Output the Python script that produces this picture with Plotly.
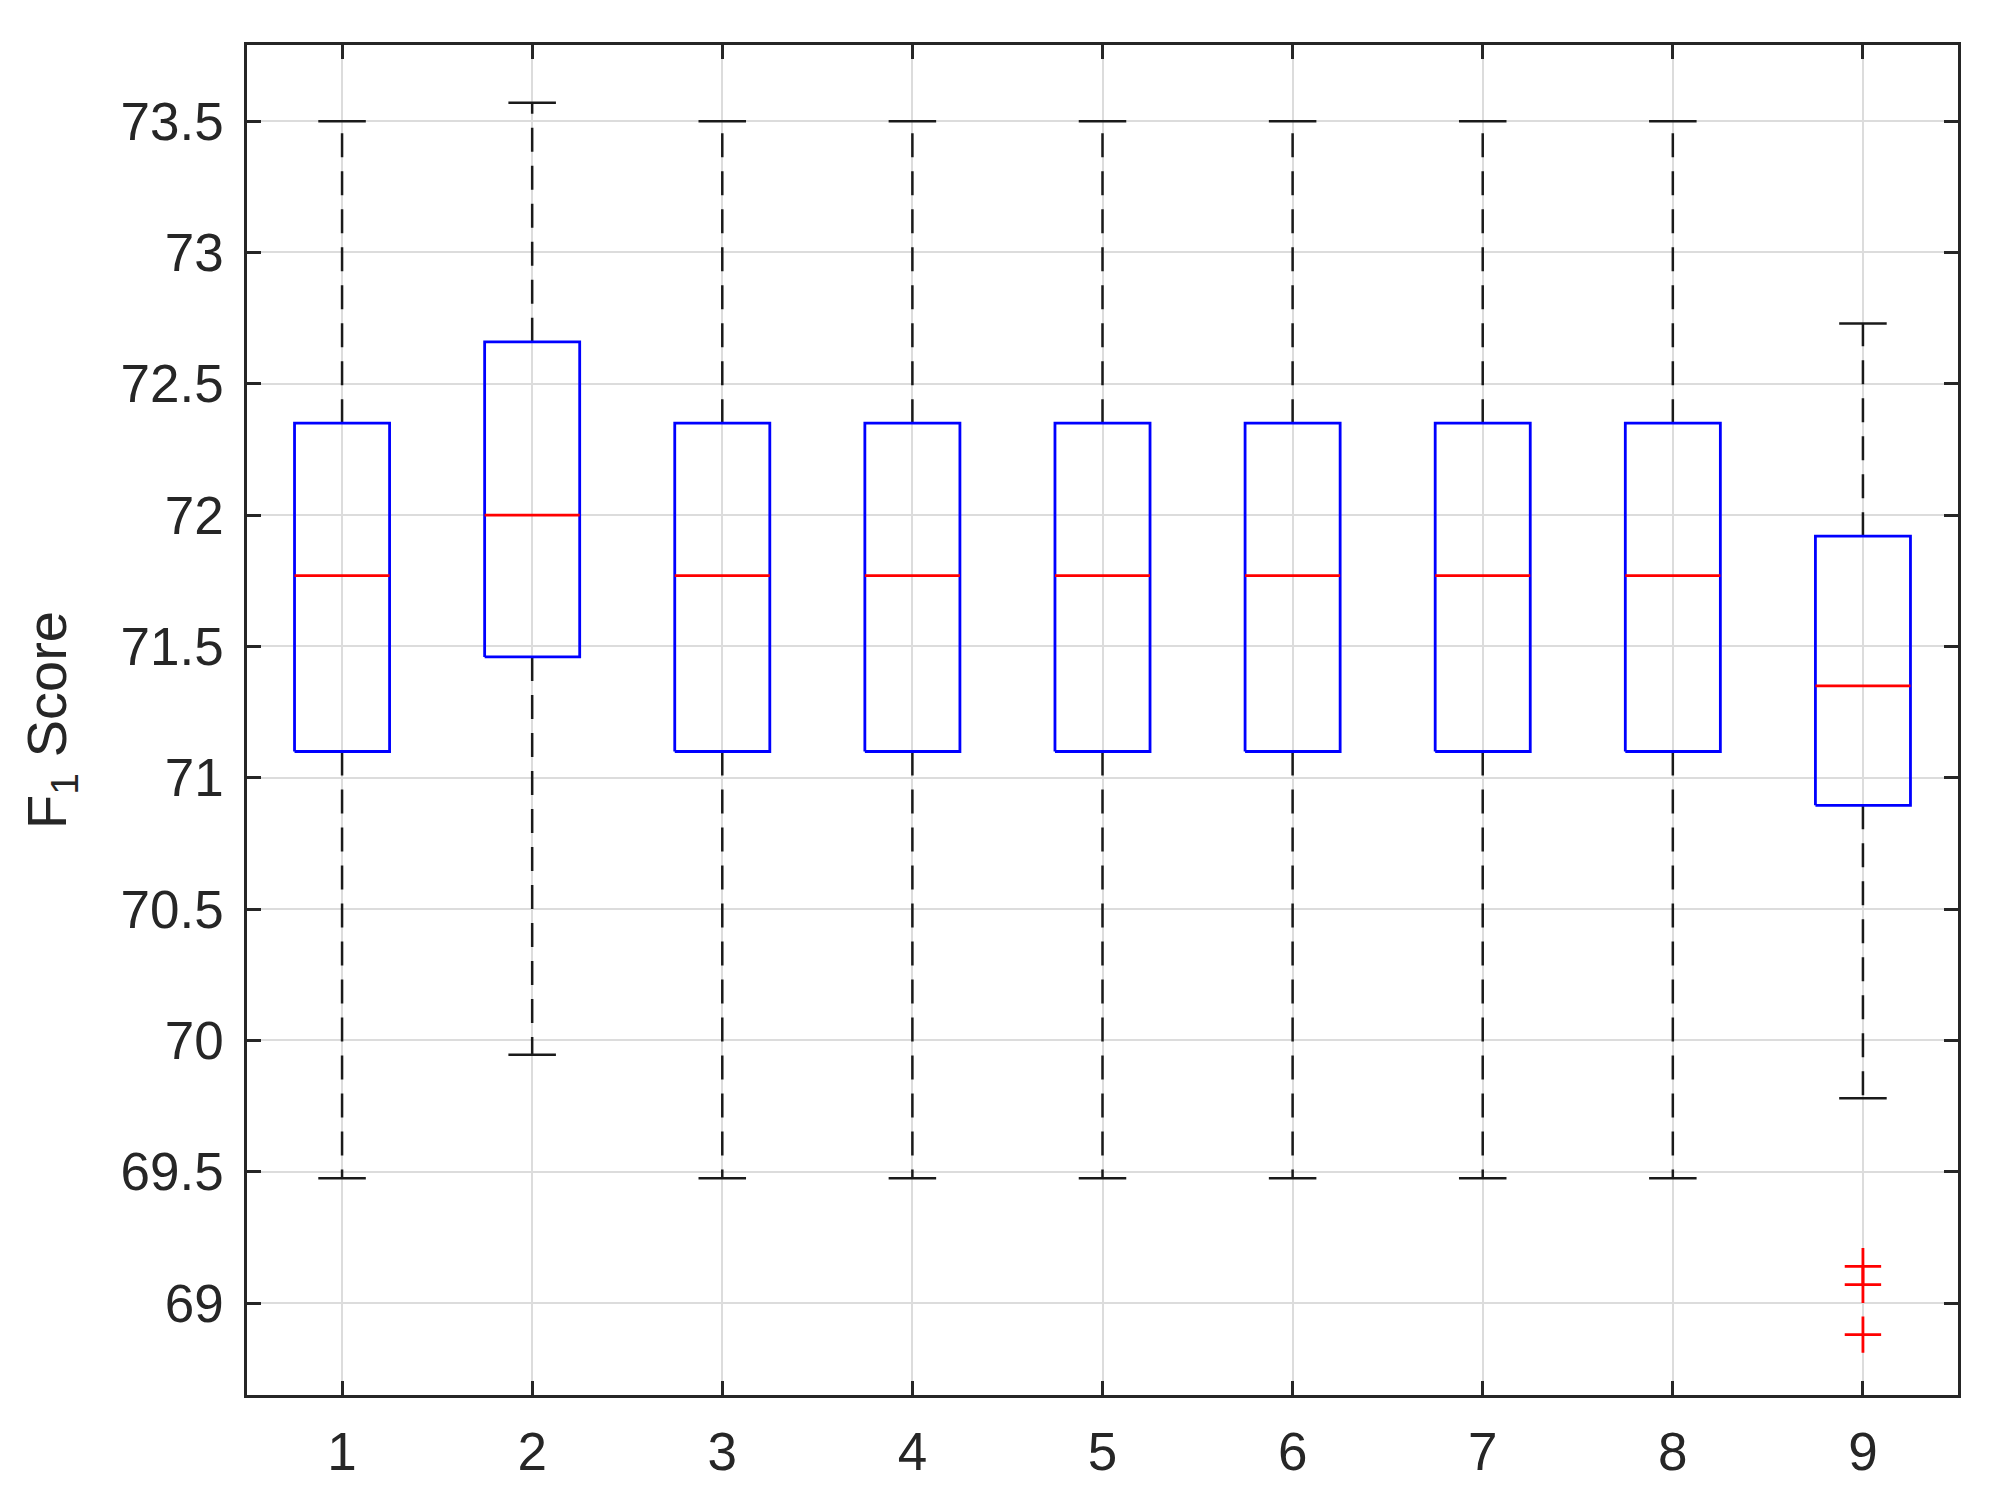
import plotly.graph_objects as go

# box statistics (F1 scores)
categories = [1, 2, 3, 4, 5, 6, 7, 8, 9]
upper_whisker = [73.50, 73.57, 73.50, 73.50, 73.50, 73.50, 73.50, 73.50, 72.73]
q3 = [72.35, 72.66, 72.35, 72.35, 72.35, 72.35, 72.35, 72.35, 71.92]
medians = [71.77, 72.00, 71.77, 71.77, 71.77, 71.77, 71.77, 71.77, 71.35]
q1 = [71.10, 71.46, 71.10, 71.10, 71.10, 71.10, 71.10, 71.10, 70.895]
lower_whisker = [69.475, 69.945, 69.475, 69.475, 69.475, 69.475, 69.475, 69.475, 69.78]
outlier_x = [9, 9, 9]
outlier_y = [69.14, 69.07, 68.88]

y_ticks = [69, 69.5, 70, 70.5, 71, 71.5, 72, 72.5, 73, 73.5]
y_ticktext = ["69", "69.5", "70", "70.5", "71", "71.5", "72", "72.5", "73", "73.5"]

box_half = 0.25
cap_half = 0.125

# build segment lists from the stats
wx, wy, cx, cy, bx, by, mx, my = [], [], [], [], [], [], [], []
for i, c in enumerate(categories):
    wx += [c, c, None, c, c, None]
    wy += [q3[i], upper_whisker[i], None, q1[i], lower_whisker[i], None]
    cx += [c - cap_half, c + cap_half, None, c - cap_half, c + cap_half, None]
    cy += [upper_whisker[i], upper_whisker[i], None, lower_whisker[i], lower_whisker[i], None]
    bx += [c - box_half, c + box_half, c + box_half, c - box_half, c - box_half, None]
    by += [q1[i], q1[i], q3[i], q3[i], q1[i], None]
    mx += [c - box_half, c + box_half, None]
    my += [medians[i], medians[i], None]

fig = go.Figure()
fig.add_trace(go.Scatter(x=wx, y=wy, mode="lines", line=dict(color="#1a1a1a", width=2.5, dash="24px,14px")))
fig.add_trace(go.Scatter(x=cx, y=cy, mode="lines", line=dict(color="#1a1a1a", width=2.5)))
fig.add_trace(go.Scatter(x=bx, y=by, mode="lines", line=dict(color="#0000ff", width=2.8)))
fig.add_trace(go.Scatter(x=mx, y=my, mode="lines", line=dict(color="#ff0000", width=2.8)))
fig.add_trace(go.Scatter(x=outlier_x, y=outlier_y, mode="markers",
                         marker=dict(symbol="cross-thin", size=26, line=dict(color="#ff0000", width=2.8))))

axis_font = dict(family="Liberation Sans, Arial, sans-serif", size=53, color="#262626")
title_font = dict(family="Liberation Sans, Arial, sans-serif", size=56, color="#262626")

# the page body has an 8px margin, so margins are trimmed to compensate
fig.update_layout(
    width=1994, height=1512,
    margin=dict(l=239, r=44, t=37, b=125),
    paper_bgcolor="white", plot_bgcolor="white",
    showlegend=False,
    font=axis_font,
)
fig.update_xaxes(
    range=[0.5, 9.5], tickvals=categories, ticktext=[str(c) for c in categories],
    showgrid=True, gridcolor="#dcdcdc", gridwidth=1.5, zeroline=False,
    showline=True, linecolor="#262626", linewidth=2.5, mirror="ticks",
    ticks="inside", ticklen=14, tickwidth=2.5, tickcolor="#262626",
    tickfont=axis_font, ticklabelstandoff=9,
)
fig.update_yaxes(
    range=[68.65, 73.79], tickvals=y_ticks, ticktext=y_ticktext,
    showgrid=True, gridcolor="#dcdcdc", gridwidth=1.5, zeroline=False,
    showline=True, linecolor="#262626", linewidth=2.5, mirror="ticks",
    ticks="inside", ticklen=14, tickwidth=2.5, tickcolor="#262626",
    tickfont=axis_font, ticklabelstandoff=10,
    title=dict(text="F<sub>1</sub> Score", font=title_font, standoff=36),
)

fig.write_html("out.html")
